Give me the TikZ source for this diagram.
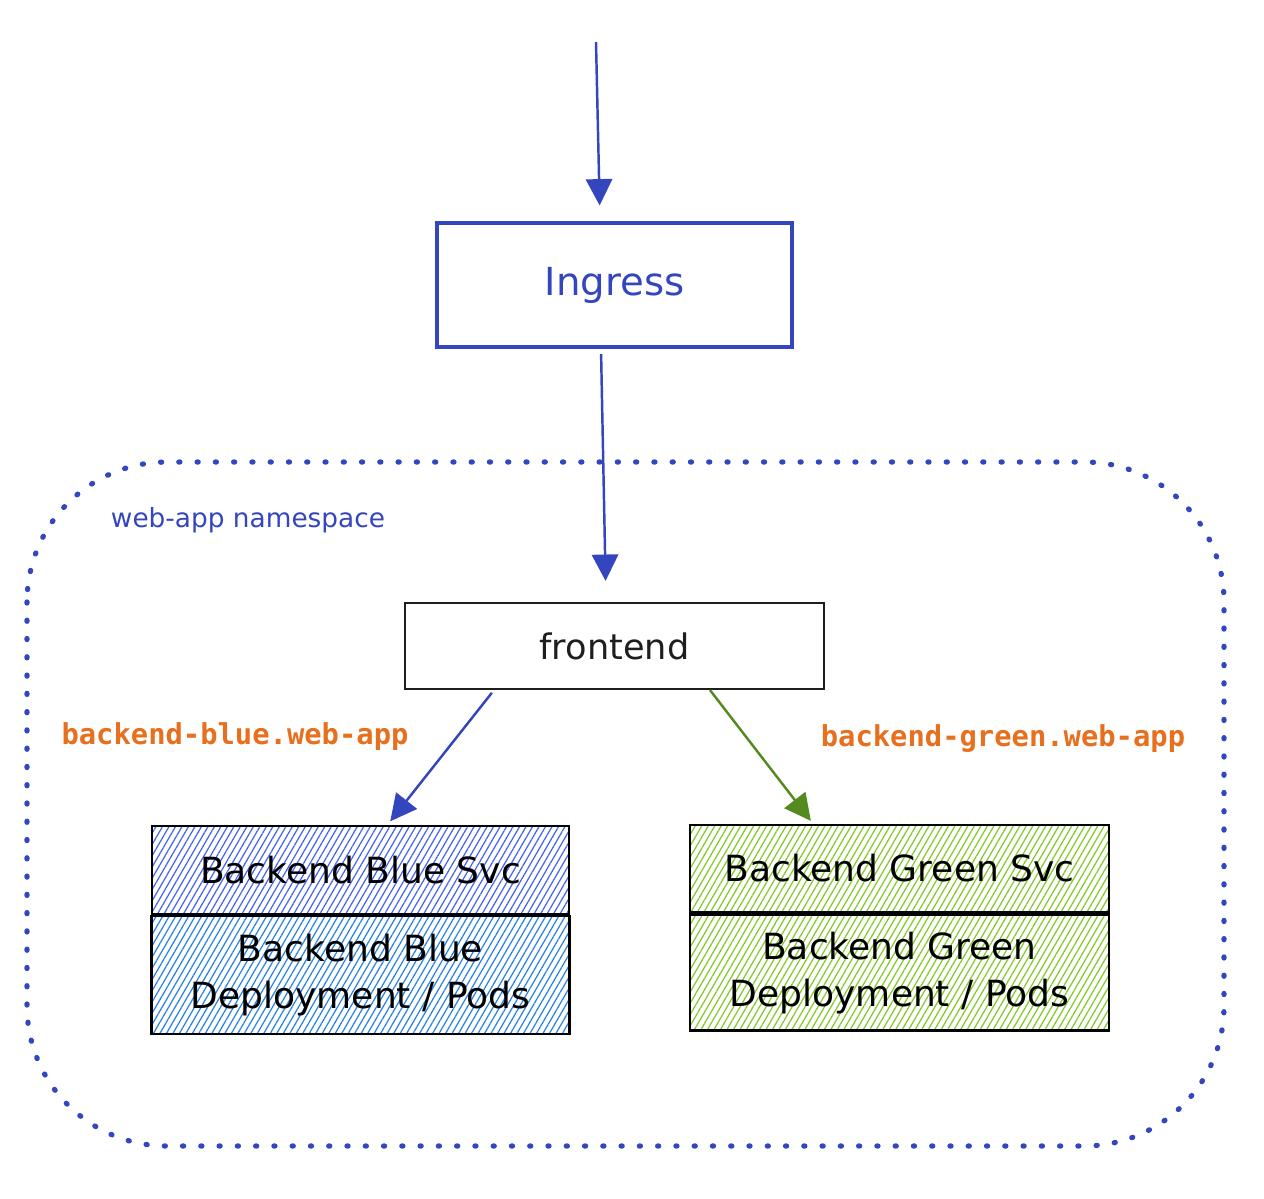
\documentclass[tikz,border=0pt]{standalone}
\usepackage{fontspec}
\setmainfont{DejaVu Sans}
\setmonofont{DejaVu Sans Mono}
\usepackage{xcolor}
\usepackage{tikz}
\usetikzlibrary{arrows.meta,positioning,patterns.meta}

\definecolor{k8blue}{RGB}{52,70,190}
\definecolor{svcblue}{RGB}{70,100,235}
\definecolor{podblue}{RGB}{40,130,225}
\definecolor{k8green}{RGB}{84,138,32}
\definecolor{podgreen}{RGB}{130,200,40}
\definecolor{dnsorange}{RGB}{230,112,30}
\definecolor{ink}{RGB}{30,30,30}

\begin{document}
\begin{tikzpicture}[x=0.02cm,y=-0.02cm,
            hand/.style={font=\fontsize{20.5}{27}\selectfont, text=black},
            plainbox/.style={draw=ink, line width=1.2pt, minimum width=8.38cm, minimum height=1.72cm},
            hatchbox/.style={draw=black, line width=1.6pt, hand, align=center,
                    pattern={Lines[angle=60,distance=3.2pt,line width=0.7pt]}},
            dnslabel/.style={font=\ttfamily\bfseries\fontsize{16.4}{20}\selectfont, text=dnsorange},
            flow/.style={line width=1.4pt, -{Triangle[length=15pt,width=15pt]}}]
    \useasboundingbox (0,0) rectangle (1264,1198);

    % namespace
    \draw[k8blue, line width=3pt, line cap=round, dash pattern=on 0.6pt off 9.8pt,
          rounded corners=2.8cm] (27,462) rectangle (1224,1146);
    \node[text=k8blue, font=\fontsize{15}{18}\selectfont] (nslabel) at (248,520) {web-app namespace};

    % ingress
    \coordinate (client) at (596,42);
    \node[draw=k8blue, line width=2pt, minimum width=7.1cm, minimum height=2.48cm,
          text=k8blue, font=\fontsize{22}{24}\selectfont] (ingress) at (614.5,285) {Ingress};

    % frontend
    \node[plainbox, text=ink, font=\fontsize{20}{24}\selectfont] (frontend) at (614.5,646) {frontend};

    % backends
    \node[hatchbox, pattern color=svcblue, minimum width=8.34cm, minimum height=1.76cm] (bluesvc) at (360.5,870) {Backend Blue Svc};
    \node[hatchbox, pattern color=podblue, minimum width=8.36cm, minimum height=2.36cm,
          below=0cm of bluesvc] (bluepods) {Backend Blue\\Deployment / Pods};
    \node[hatchbox, pattern color=podgreen, minimum width=8.38cm, minimum height=1.74cm] (greensvc) at (899.5,868.5) {Backend Green Svc};
    \node[hatchbox, pattern color=podgreen, minimum width=8.38cm, minimum height=2.32cm,
          below=0cm of greensvc] (greenpods) {Backend Green\\Deployment / Pods};

    % dns names
    \node[dnslabel] (bluedns) at (235,737) {backend-blue.web-app};
    \node[dnslabel] (greendns) at (1003,739) {backend-green.web-app};

    % traffic
    \draw[flow, k8blue, shorten >=9pt] (client) -- ([xshift=-0.29cm]ingress.north);
    \draw[flow, k8blue, shorten <=3pt, shorten >=12pt] ([xshift=-0.27cm]ingress.south) -- ([xshift=-0.17cm]frontend.north);
    \draw[flow, k8blue, shorten <=2pt, shorten >=3pt] ([xshift=-2.41cm]frontend.south) -- ([xshift=0.53cm]bluesvc.north);
    \draw[flow, k8green, shorten >=2pt] ([xshift=1.91cm]frontend.south) -- ([xshift=-1.73cm]greensvc.north);
\end{tikzpicture}
\end{document}
